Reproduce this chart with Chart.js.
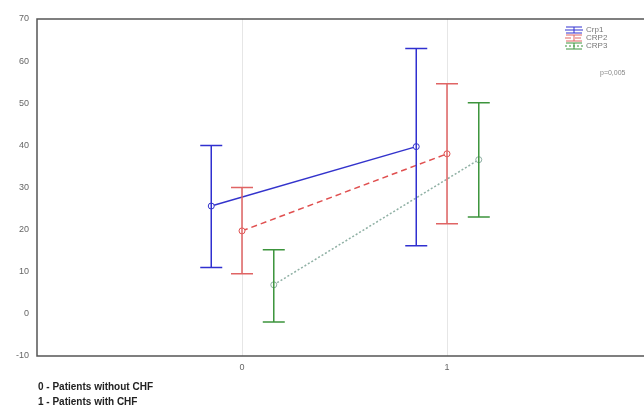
<!DOCTYPE html>
<html>
<head>
<meta charset="utf-8">
<script src="https://cdn.jsdelivr.net/npm/chart.js@4"></script>
<style>
  html, body { margin: 0; padding: 0; background: #fff; overflow: hidden; }
  #wrap { width: 644px; height: 416px; overflow: hidden; }
</style>
</head>
<body>
<div id="wrap"><canvas id="myChart" width="660" height="416"></canvas></div>
<script>
// groups on the x axis (0 = without CHF, 1 = with CHF)
var groups = [0, 1];
var seriesNames = ['Crp1', 'CRP2', 'CRP3'];
var offsets = [-0.15, 0, 0.155];

var crp1Mean = [25.6, 39.7];
var crp1Upper = [40, 63];
var crp1Lower = [11, 16.2];

var crp2Mean = [19.7, 38];
var crp2Upper = [30, 54.6];
var crp2Lower = [9.5, 21.4];

var crp3Mean = [6.9, 36.6];
var crp3Upper = [15.2, 50.1];
var crp3Lower = [-1.9, 23];

var yTicks = [-10, 0, 10, 20, 30, 40, 50, 60, 70];
var footnotes = ['0 - Patients without CHF', '1 - Patients with CHF'];
var pValue = 'p=0,005';

function points(means, off) {
    return groups.map(function (g, i) { return { x: g + off, y: means[i] }; });
}

var bars = [
    { upper: crp1Upper, lower: crp1Lower, color: '#3030d0' },
    { upper: crp2Upper, lower: crp2Lower, color: '#e06464' },
    { upper: crp3Upper, lower: crp3Lower, color: '#3c943c' }
];

var errorBars = {
    id: 'errorBars',
    beforeDraw: function (chart) {
        var c = chart.ctx;
        c.save();
        c.fillStyle = '#fff';
        c.fillRect(0, 0, chart.width, chart.height);
        c.restore();
    },
    afterDatasetsDraw: function (chart) {
        var c = chart.ctx, xs = chart.scales.x, ys = chart.scales.y;
        c.save();
        bars.forEach(function (b, d) {
            c.strokeStyle = b.color;
            c.lineWidth = 1.5;
            groups.forEach(function (g, i) {
                var px = xs.getPixelForValue(g + offsets[d]);
                var top = ys.getPixelForValue(b.upper[i]);
                var bot = ys.getPixelForValue(b.lower[i]);
                c.beginPath();
                c.moveTo(px, top); c.lineTo(px, bot);
                c.moveTo(px - 11, top); c.lineTo(px + 11, top);
                c.moveTo(px - 11, bot); c.lineTo(px + 11, bot);
                c.stroke();
            });
        });
        c.restore();
    },
    afterDraw: function (chart) {
        var c = chart.ctx, a = chart.chartArea;
        c.save();
        // frame
        c.strokeStyle = '#555';
        c.lineWidth = 1.5;
        c.strokeRect(a.left, a.top, a.right - a.left, a.bottom - a.top);
        // legend
        c.font = '8px Arial';
        c.textBaseline = 'middle';
        chart.data.datasets.forEach(function (ds, d) {
            var y = 30 + d * 8;
            c.strokeStyle = bars[d].color;
            c.lineWidth = 1;
            c.setLineDash(ds.borderDash || []);
            c.beginPath(); c.moveTo(565, y); c.lineTo(583, y); c.stroke();
            c.setLineDash([]);
            c.beginPath();
            c.moveTo(574, y - 3); c.lineTo(574, y + 3);
            c.moveTo(566, y - 3); c.lineTo(582, y - 3);
            c.moveTo(566, y + 3); c.lineTo(582, y + 3);
            c.stroke();
            c.fillStyle = '#777';
            c.textAlign = 'left';
            c.fillText(ds.label, 586, y);
        });
        c.font = '7px Arial';
        c.fillStyle = '#888';
        c.fillText(pValue, 600, 73);
        // footnotes
        c.font = 'bold 10px Arial';
        c.fillStyle = '#222';
        c.textBaseline = 'alphabetic';
        footnotes.forEach(function (t, i) {
            c.fillText(t, 38, 390 + i * 15);
        });
        c.restore();
    }
};

var ctx = document.getElementById('myChart').getContext('2d');
var myChart = new Chart(ctx, {
    type: 'scatter',
    data: {
        datasets: [
            {
                label: seriesNames[0],
                data: points(crp1Mean, offsets[0]),
                showLine: true,
                borderColor: '#3333cc',
                backgroundColor: '#fff',
                borderWidth: 1.5,
                pointRadius: 3,
                pointBorderWidth: 1
            },
            {
                label: seriesNames[1],
                data: points(crp2Mean, offsets[1]),
                showLine: true,
                borderColor: '#e05050',
                backgroundColor: '#fff',
                borderWidth: 1.5,
                borderDash: [6, 4],
                pointRadius: 3,
                pointBorderWidth: 1
            },
            {
                label: seriesNames[2],
                data: points(crp3Mean, offsets[2]),
                showLine: true,
                borderColor: '#8fb0a4',
                backgroundColor: '#fff',
                borderWidth: 1.5,
                borderDash: [2, 2],
                pointRadius: 3,
                pointBorderWidth: 1
            }
        ]
    },
    options: {
        responsive: false,
        animation: false,
        layout: { padding: { top: 19, right: 8, left: 0, bottom: 0 } },
        plugins: {
            legend: { display: false },
            tooltip: { enabled: false }
        },
        scales: {
            x: {
                type: 'linear',
                min: -1,
                max: 2,
                afterFit: function (s) { s.height = 60; },
                afterBuildTicks: function (s) {
                    s.ticks = groups.map(function (g) { return { value: g }; });
                },
                ticks: { color: '#666', font: { family: 'Arial', size: 9 }, padding: 6 },
                grid: { color: '#e6e6e6', drawTicks: false },
                border: { display: false }
            },
            y: {
                min: -10,
                max: 70,
                afterFit: function (s) { s.width = 37; },
                afterBuildTicks: function (s) {
                    s.ticks = yTicks.map(function (v) { return { value: v }; });
                },
                ticks: { color: '#666', font: { family: 'Arial', size: 9 }, padding: 8 },
                grid: { display: false, drawTicks: false },
                border: { display: false }
            }
        }
    },
    plugins: [errorBars]
});
</script>
</body>
</html>
